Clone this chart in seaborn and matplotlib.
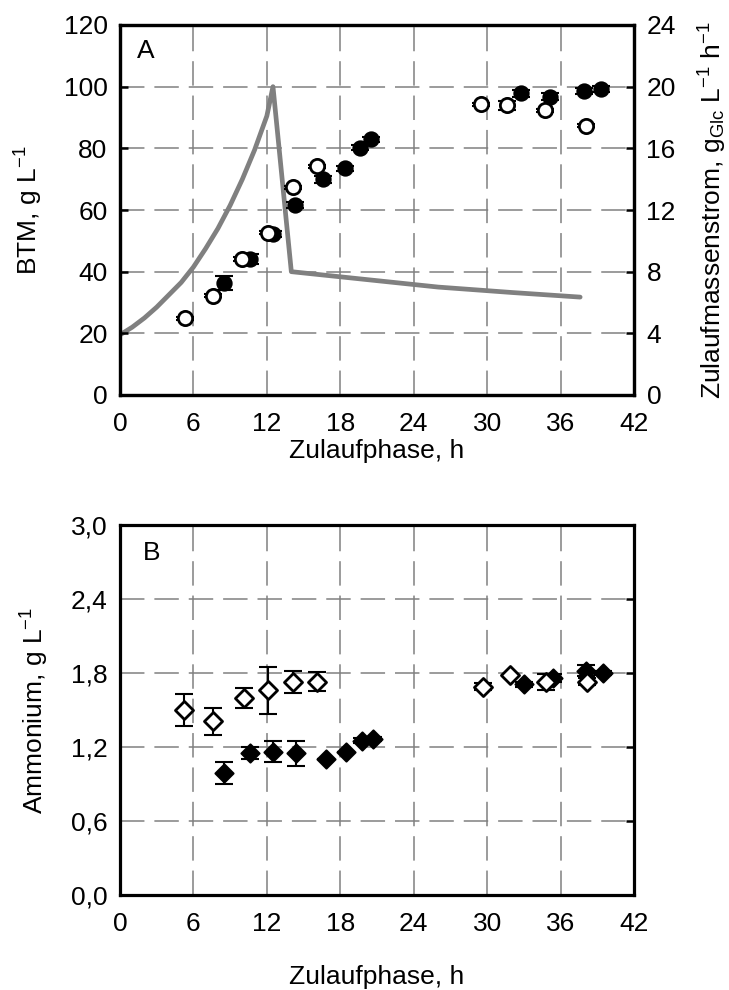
import numpy as np
import pandas as pd
import matplotlib
matplotlib.use("Agg")
import matplotlib.pyplot as plt
import seaborn as sns

# ---------------- data ----------------
# Panel A: BTM (g/L)
t_btm_open = [5.3, 7.6, 10.0, 12.1, 14.1, 16.1, 29.5, 31.6, 34.7, 38.1]
btm_open = [24.9, 32.2, 44.1, 52.7, 67.4, 74.2, 94.3, 94.0, 92.4, 87.3]
btm_open_err = [0.5, 0.5, 0.5, 0.5, 0.5, 0.5, 0.5, 1.5, 0.5, 0.5]

t_btm_filled = [8.5, 10.6, 12.5, 14.3, 16.6, 18.4, 19.6, 20.5, 32.8, 35.1, 37.9, 39.3]
btm_filled = [36.4, 44.1, 52.2, 61.5, 69.9, 73.5, 80.2, 83.0, 97.8, 96.7, 98.5, 99.2]
btm_filled_err = [2.2, 1.7, 1.0, 1.0, 1.0, 0.8, 0.8, 0.8, 1.1, 1.1, 1.0, 1.0]

# Feed rate (right axis, g_Glc L^-1 h^-1)
t_feed = [0, 1, 2, 3, 4, 5, 6, 7, 8, 9, 10, 11, 12, 12.5, 14, 20, 26, 32, 37.6]
feed = [3.9, 4.4, 5.0, 5.7, 6.5, 7.3, 8.3, 9.5, 10.8, 12.3, 14.0, 15.9, 18.1, 20.0,
        8.0, 7.5, 7.0, 6.65, 6.35]

# Panel B: Ammonium (g/L)
t_nh4_open = [5.2, 7.6, 10.1, 12.1, 14.1, 16.1, 29.7, 31.9, 34.8, 38.2]
nh4_open = [1.50, 1.41, 1.60, 1.66, 1.73, 1.73, 1.69, 1.78, 1.73, 1.73]
nh4_open_err = [0.13, 0.11, 0.08, 0.19, 0.09, 0.075, 0.03, 0.0, 0.065, 0.03]

t_nh4_filled = [8.5, 10.6, 12.5, 14.4, 16.8, 18.5, 19.8, 20.7, 33.0, 35.4, 38.1, 39.5]
nh4_filled = [0.99, 1.15, 1.16, 1.15, 1.105, 1.16, 1.25, 1.265, 1.71, 1.76, 1.82, 1.80]
nh4_filled_err = [0.09, 0.05, 0.085, 0.10, 0.0, 0.0, 0.02, 0.02, 0.02, 0.03, 0.045, 0.02]

x_ticks = [0, 6, 12, 18, 24, 30, 36, 42]
btm_ticks = [0, 20, 40, 60, 80, 100, 120]
feed_ticks = [0, 4, 8, 12, 16, 20, 24]
nh4_ticks = [0.0, 0.6, 1.2, 1.8, 2.4, 3.0]
nh4_ticklabels = ["0,0", "0,6", "1,2", "1,8", "2,4", "3,0"]

# ---------------- style ----------------
sns.set_theme(style="white")
plt.rcParams["font.family"] = ["Liberation Sans", "DejaVu Sans"]
plt.rcParams["mathtext.fontset"] = "custom"
plt.rcParams["mathtext.rm"] = "Liberation Sans"
plt.rcParams["mathtext.it"] = "Liberation Sans"
plt.rcParams["text.color"] = "black"
plt.rcParams["axes.labelcolor"] = "black"
plt.rcParams["xtick.color"] = "black"
plt.rcParams["ytick.color"] = "black"
FS = 19
GRID = dict(color="#808080", linewidth=1.1, linestyle=(0, (16, 6.5)))

fig = plt.figure(figsize=(7.29, 9.90), dpi=100)
L, W, H = 120 / 729, 514 / 729, 370 / 990
axA = fig.add_axes([L, 1 - 395 / 990, W, H])
axB = fig.add_axes([L, 1 - 895 / 990, W, H])


def style_axes(ax):
    for s in ax.spines.values():
        s.set_linewidth(2.3)
        s.set_color("black")
        s.set_visible(True)
    ax.tick_params(axis="both", direction="in", length=6, width=1.8,
                   labelsize=FS, colors="black", pad=9)
    ax.tick_params(axis="x", pad=12)
    ax.grid(True, **GRID)
    ax.set_axisbelow(True)


# ---------- Panel A ----------
axF = axA.twinx()
axA.set_zorder(axF.get_zorder() + 1)
axA.patch.set_visible(False)

sns.lineplot(x=t_feed, y=feed, ax=axF, color="#808080", linewidth=3.4,
             sort=False, estimator=None)
axF.set_ylim(0, 24)
axF.set_yticks(feed_ticks)
axF.tick_params(axis="y", direction="in", length=6, width=1.8,
                labelsize=FS, colors="black", pad=9)
axF.set_ylabel(r"Zulaufmassenstrom, g$_{\mathrm{Glc}}$ L$^{-1}$ h$^{-1}$",
               fontsize=FS, color="black")
axF.yaxis.set_label_coords(1.122, 0.5)
axF.grid(False)
for s in axF.spines.values():
    s.set_linewidth(2.3)
    s.set_color("black")

axA.errorbar(t_btm_filled, btm_filled, yerr=btm_filled_err, fmt="none",
             ecolor="black", elinewidth=1.5, capsize=6.5, capthick=1.5, zorder=3)
axA.errorbar(t_btm_open, btm_open, yerr=btm_open_err, fmt="none",
             ecolor="black", elinewidth=1.5, capsize=6.5, capthick=1.5, zorder=3)
sns.scatterplot(x=t_btm_filled, y=btm_filled, ax=axA, marker="o", s=105,
                color="black", edgecolor="black", linewidth=1.5, zorder=4)
sns.scatterplot(x=t_btm_open, y=btm_open, ax=axA, marker="o", s=105,
                color="white", edgecolor="black", linewidth=2.0, zorder=5)
axA.set_xlim(0, 42)
axA.set_ylim(0, 120)
axA.set_xticks(x_ticks)
axA.set_yticks(btm_ticks)
style_axes(axA)
axA.set_ylabel(r"BTM, g L$^{-1}$", fontsize=FS, color="black")
axA.yaxis.set_label_coords(-0.146, 0.5)
axA.set_xlabel("Zulaufphase, h", fontsize=FS, color="black")
axA.xaxis.set_label_coords(0.5, -0.12)
axA.text(0.033, 0.93, "A", transform=axA.transAxes, fontsize=FS,
         va="center", ha="left", color="black")

# ---------- Panel B ----------
axB.errorbar(t_nh4_filled, nh4_filled, yerr=nh4_filled_err, fmt="none",
             ecolor="black", elinewidth=1.5, capsize=6.5, capthick=1.5, zorder=3)
axB.errorbar(t_nh4_open, nh4_open, yerr=nh4_open_err, fmt="none",
             ecolor="black", elinewidth=1.5, capsize=6.5, capthick=1.5, zorder=3)
sns.scatterplot(x=t_nh4_filled, y=nh4_filled, ax=axB, marker="D", s=85,
                color="black", edgecolor="black", linewidth=1.5, zorder=4)
sns.scatterplot(x=t_nh4_open, y=nh4_open, ax=axB, marker="D", s=85,
                color="white", edgecolor="black", linewidth=2.0, zorder=5)
axB.set_xlim(0, 42)
axB.set_ylim(0, 3.0)
axB.set_xticks(x_ticks)
axB.set_yticks(nh4_ticks)
axB.set_yticklabels(nh4_ticklabels)
style_axes(axB)
axB.tick_params(axis="y", right=True, direction="in", length=6, width=1.8)
axB.set_ylabel(r"Ammonium, g L$^{-1}$", fontsize=FS, color="black")
axB.yaxis.set_label_coords(-0.134, 0.5)
axB.set_xlabel("Zulaufphase, h", fontsize=FS, color="black")
axB.xaxis.set_label_coords(0.5, -0.19)
axB.text(0.045, 0.925, "B", transform=axB.transAxes, fontsize=FS,
         va="center", ha="left", color="black")

fig.savefig("out.png", dpi=100)
